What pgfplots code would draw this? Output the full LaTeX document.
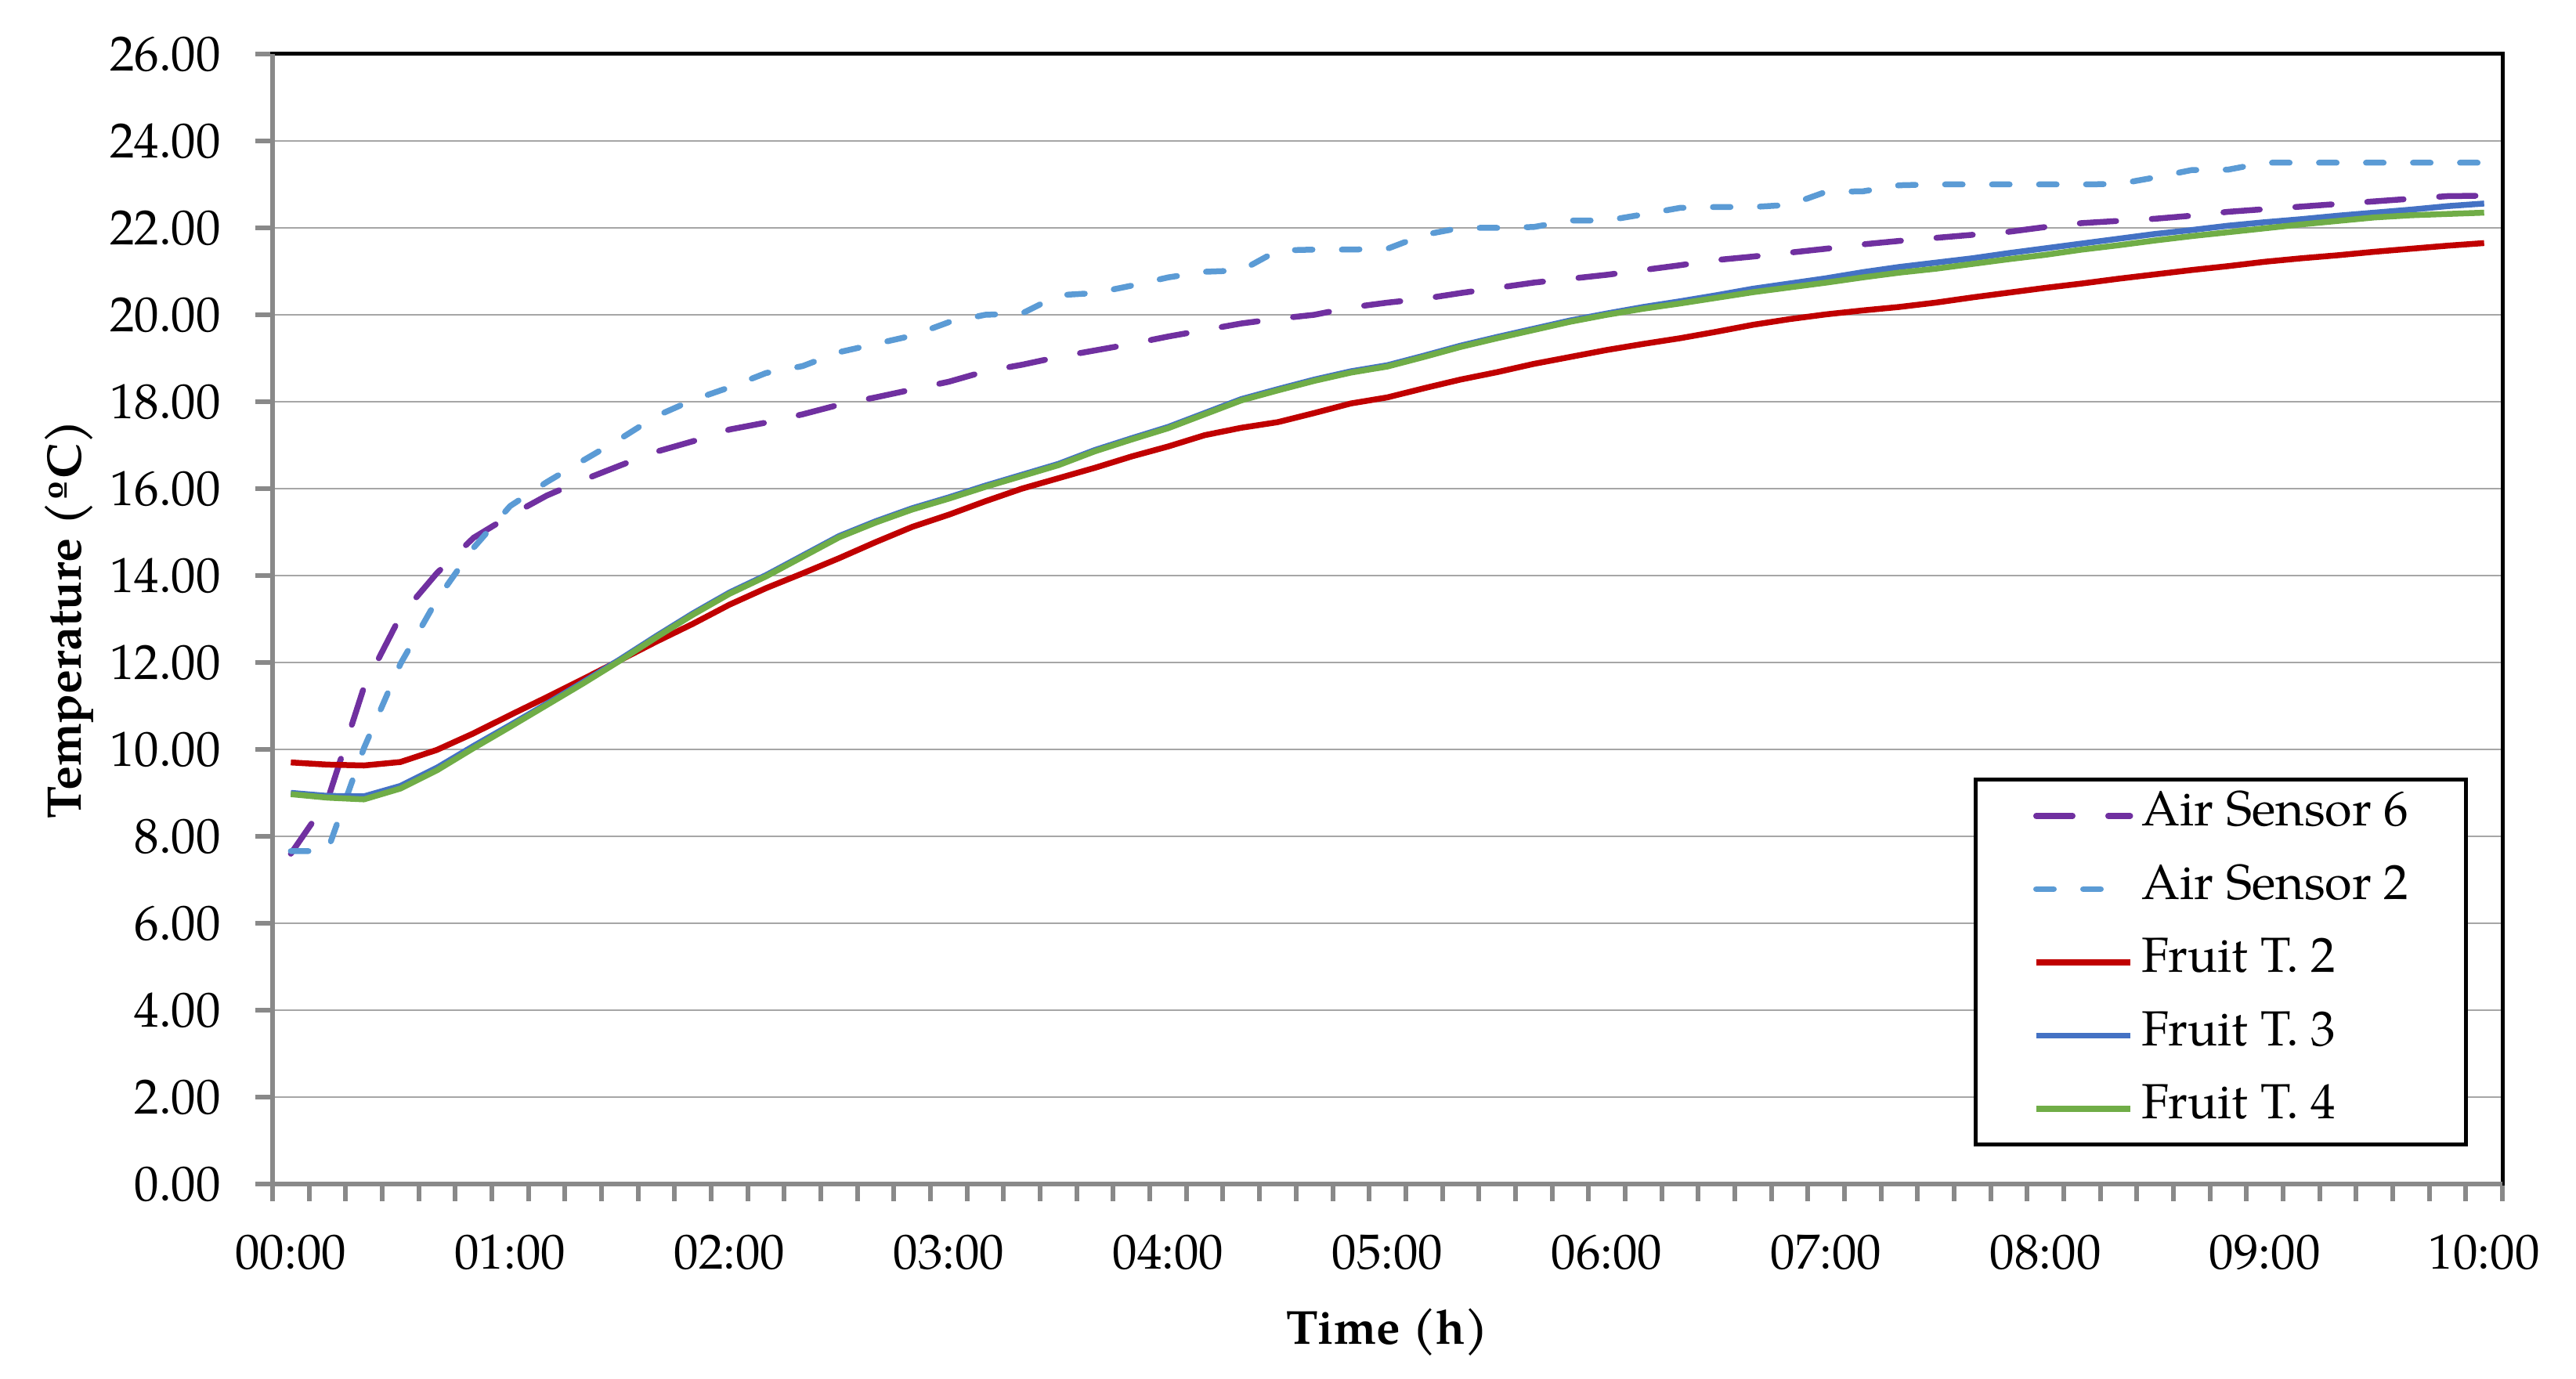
\documentclass[border=0pt]{standalone}
\usepackage{pgfplots}
\pgfplotsset{compat=1.18}
\usepackage{pgfplotstable}
\usepackage{fontspec}
\setmainfont{TeX Gyre Pagella}
\definecolor{cPurple}{HTML}{7030A0}
\definecolor{cLblue}{HTML}{5B9BD5}
\definecolor{cRed}{HTML}{C00000}
\definecolor{cBlue}{HTML}{4472C4}
\definecolor{cGreen}{HTML}{70AD47}
\definecolor{axgray}{HTML}{898989}
\definecolor{gridgray}{HTML}{A6A6A6}
\pgfplotstableread{
k s6 s2 t2 t3 t4
0 7.60 7.66 9.70 9.00 8.97
1 8.82 7.66 9.65 8.93 8.89
2 11.43 10.03 9.63 8.92 8.85
3 13.07 11.97 9.71 9.16 9.10
4 14.06 13.45 9.99 9.58 9.52
5 14.87 14.64 10.37 10.08 10.03
6 15.38 15.60 10.79 10.56 10.52
7 15.84 16.15 11.20 11.05 11.02
8 16.20 16.65 11.62 11.55 11.52
9 16.53 17.14 12.05 12.07 12.04
10 16.85 17.67 12.48 12.61 12.58
11 17.09 18.04 12.89 13.13 13.10
12 17.36 18.33 13.33 13.61 13.58
13 17.52 18.66 13.71 14.01 13.98
14 17.71 18.82 14.05 14.46 14.43
15 17.93 19.14 14.40 14.91 14.88
16 18.10 19.33 14.77 15.25 15.22
17 18.28 19.52 15.12 15.55 15.52
18 18.46 19.83 15.40 15.80 15.77
19 18.70 20.00 15.71 16.07 16.04
20 18.85 20.03 16.00 16.32 16.29
21 19.03 20.45 16.24 16.57 16.54
22 19.18 20.50 16.48 16.89 16.86
23 19.33 20.67 16.74 17.16 17.13
24 19.50 20.86 16.97 17.42 17.39
25 19.65 20.99 17.23 17.74 17.71
26 19.80 21.02 17.40 18.06 18.03
27 19.91 21.48 17.53 18.29 18.26
28 20.00 21.50 17.74 18.51 18.48
29 20.17 21.50 17.96 18.70 18.67
30 20.28 21.52 18.10 18.84 18.81
31 20.37 21.84 18.31 19.06 19.03
32 20.50 22.00 18.51 19.29 19.26
33 20.62 22.00 18.68 19.49 19.46
34 20.74 22.02 18.87 19.68 19.65
35 20.83 22.17 19.03 19.87 19.84
36 20.92 22.17 19.19 20.03 20.00
37 21.03 22.31 19.33 20.18 20.14
38 21.14 22.46 19.46 20.31 20.26
39 21.26 22.48 19.61 20.45 20.39
40 21.34 22.48 19.77 20.60 20.52
41 21.43 22.53 19.90 20.72 20.63
42 21.52 22.83 20.01 20.84 20.74
43 21.62 22.84 20.10 20.98 20.86
44 21.70 22.98 20.18 21.10 20.97
45 21.77 23.00 20.28 21.20 21.06
46 21.84 23.00 20.40 21.30 21.17
47 21.91 23.00 20.51 21.42 21.28
48 22.02 23.00 20.62 21.53 21.38
49 22.11 23.00 20.72 21.64 21.50
50 22.16 23.01 20.83 21.75 21.60
51 22.21 23.16 20.93 21.86 21.71
52 22.28 23.33 21.03 21.95 21.81
53 22.37 23.34 21.12 22.05 21.90
54 22.43 23.50 21.22 22.13 21.99
55 22.49 23.50 21.30 22.20 22.08
56 22.55 23.50 21.37 22.28 22.16
57 22.61 23.50 21.45 22.35 22.24
58 22.67 23.50 21.52 22.42 22.29
59 22.73 23.50 21.59 22.50 22.32
60 22.74 23.50 21.65 22.56 22.35
}\datatab
\begin{document}
\begin{tikzpicture}
\begin{axis}[
  scale only axis, width=569.4pt, height=288.6pt,
  xmin=-0.5, xmax=60.5, ymin=0, ymax=26,
  xtick={0,6,...,60},
  xticklabels={00:00,01:00,02:00,03:00,04:00,05:00,06:00,07:00,08:00,09:00,10:00},
  minor xtick={-0.5,0.5,...,60.5},
  ytick={0,2,...,26},
  scaled y ticks=false,
  tick align=outside, xtick pos=bottom, ytick pos=left,
  major tick length=4.4pt, minor tick length=4.4pt,
  tick style={color=axgray, line width=1.2pt},
  every major x tick/.append style={draw=none},
  ymajorgrids, major y grid style={color=gridgray, line width=0.55pt},
  axis line style={black, line width=1pt},
  ticklabel style={font=\fontsize{12.6}{15}\selectfont, inner sep=0pt},
  yticklabel style={anchor=east, xshift=-8.6pt,
    /pgf/number format/fixed, /pgf/number format/fixed zerofill,
    /pgf/number format/precision=2, /pgf/number format/assume math mode=true},
  xticklabel style={anchor=north, yshift=-8.4pt},
  xlabel={Time (h)}, ylabel={Temperature (ºC)},
  every axis y label/.style={at={(axis description cs:-0.0913,0.5)}, rotate=90, anchor=center,
    font=\bfseries\fontsize{12.4}{15}\selectfont},
  every axis x label/.style={at={(axis description cs:0.5,-0.1312)}, anchor=center,
    font=\bfseries\fontsize{12.2}{15}\selectfont},
  legend cell align=left,
  legend image code/.code={\draw[#1] (0pt,0pt) -- (24pt,0pt);},
  legend style={at={(axis description cs:0.9845,0.033)}, anchor=south east,
    draw=black, line width=1pt, fill=white,
    inner xsep=14.6pt, inner ysep=3.2pt, row sep=6.7pt, column sep=2.2pt,
    nodes={inner sep=0pt, text height=8.6pt, text depth=3.4pt},
    font=\fontsize{12.6}{15}\selectfont},
  after end axis/.code={
    \draw[axgray, line width=1.3pt] (rel axis cs:0,1) -- (rel axis cs:0,0) -- (rel axis cs:1,0);
  },
]
\addplot[cPurple, line width=1.5pt, line cap=round, line join=round, dash pattern=on 9.3pt off 9.1pt] table[x=k,y=s6]{\datatab};
\addlegendentry{Air Sensor 6}
\addplot[cLblue, line width=1.5pt, line cap=round, line join=round, dash pattern=on 4.5pt off 7.5pt] table[x=k,y=s2]{\datatab};
\addlegendentry{Air Sensor 2}
\addplot[cRed, line width=1.5pt, line join=round] table[x=k,y=t2]{\datatab};
\addlegendentry{Fruit T. 2}
\addplot[cBlue, line width=1.5pt, line join=round] table[x=k,y=t3]{\datatab};
\addlegendentry{Fruit T. 3}
\addplot[cGreen, line width=1.5pt, line join=round] table[x=k,y=t4]{\datatab};
\addlegendentry{Fruit T. 4}
\end{axis}
\pgfresetboundingbox
\path[use as bounding box] (-69.6pt,-49.8pt) rectangle (588.2pt,302.4pt);
\end{tikzpicture}
\end{document}
